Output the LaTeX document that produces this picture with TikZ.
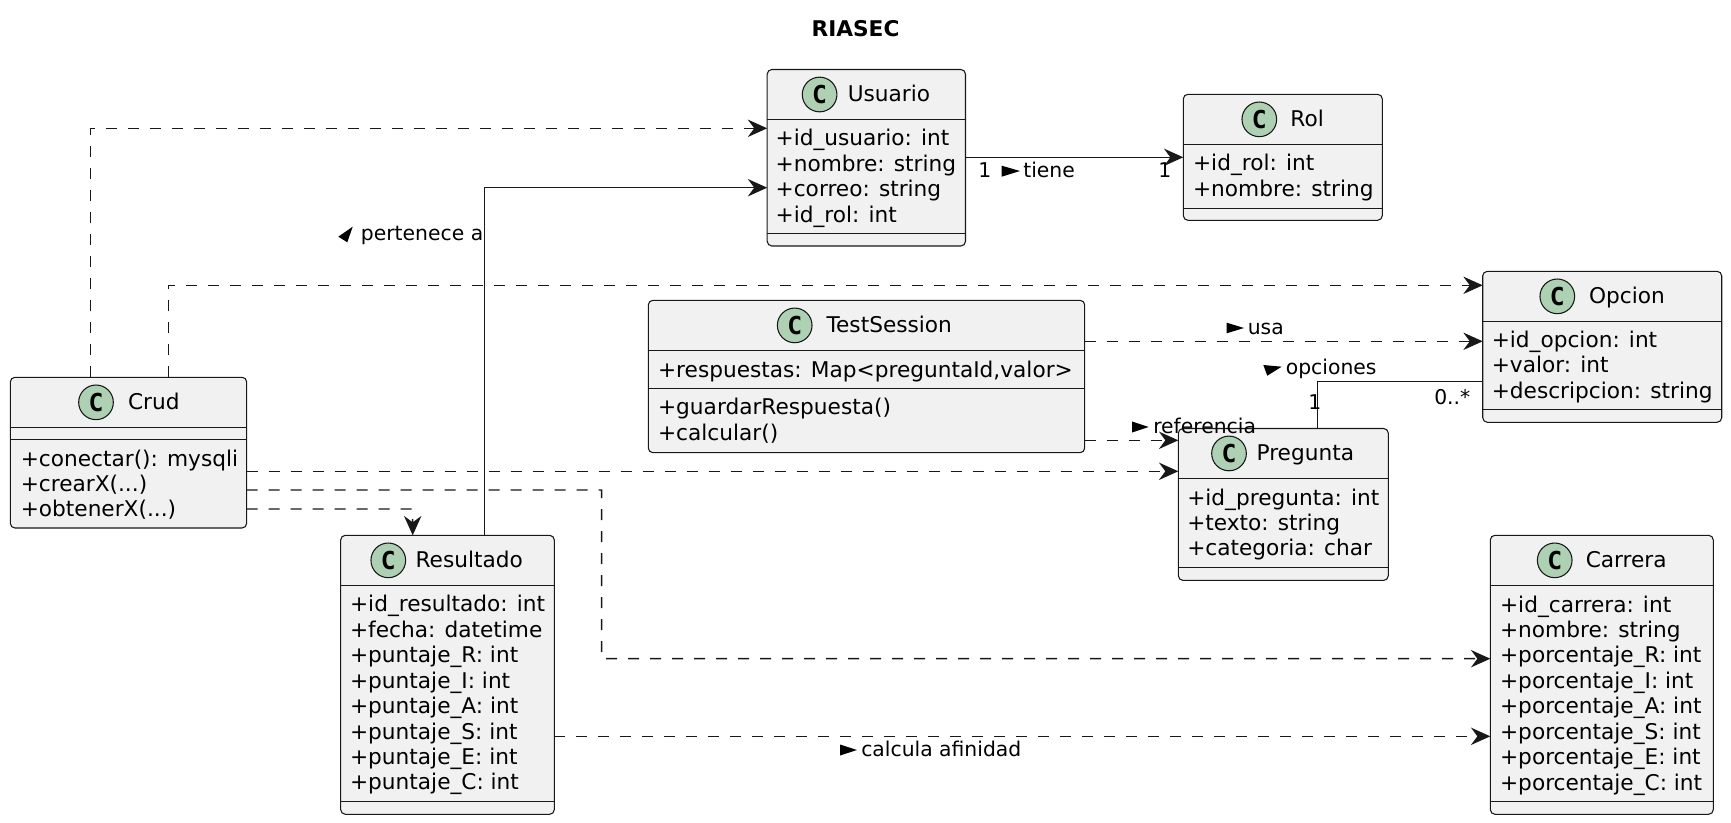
\documentclass[tikz,border=0pt]{standalone}
\usepackage{fontspec}
\setmainfont{DejaVu Sans}
\newfontfamily\spotfont{DejaVu Sans Mono}
\usetikzlibrary{arrows.meta,calc}
\definecolor{boxfill}{HTML}{F1F1F1}
\definecolor{ink}{HTML}{181818}
\definecolor{spotfill}{HTML}{ADD1B2}
\newcommand{\threedots}{.{}.{}.}
\tikzset{
  classbox/.style={draw=ink,fill=boxfill,line width=0.8pt,rounded corners=3.5pt,inner sep=0pt,outer sep=0pt,anchor=north west},
  sepline/.style={draw=ink,line width=0.8pt},
  spot/.style={circle,draw=ink,fill=spotfill,line width=0.8pt,minimum size=26pt,inner sep=0pt,font=\spotfont\bfseries\fontsize{18.5}{18.5}\selectfont},
  titletext/.style={anchor=base west,inner sep=0pt,font=\fontsize{16.25}{18}\selectfont,text=black},
  membertext/.style={anchor=base west,inner sep=0pt,font=\fontsize{16.25}{18}\selectfont,text=black},
  lbl/.style={anchor=base west,inner sep=0pt,font=\fontsize{15.25}{17}\selectfont,text=black},
  rel/.style={draw=ink,line width=1.1pt},
  dep/.style={rel,dash pattern=on 8.25pt off 8.25pt,-{Stealth[length=14.5pt,width=13pt,inset=4.8pt,color=ink]}},
  assoc/.style={rel,-{Stealth[length=14.5pt,width=13pt,inset=4.8pt,color=ink]}},
  tri/.style={fill=black,draw=none}
}
% name, x1, y1, x2, y2, header line y, spot x, title x, title
\newcommand{\umlclass}[9]{%
  \pgfmathsetmacro\bw{(#4-#2)*0.75}%
  \pgfmathsetmacro\bh{(#5-#3)*0.75}%
  \pgfmathsetmacro\sy{(#3+#6)/2}%
  \pgfmathsetmacro\ty{\sy+7.4}%
  \node[classbox,minimum width=\bw pt,minimum height=\bh pt] (#1) at (#2,#3) {};
  \draw[sepline] (#2,#6) -- (#4,#6);
  \node[spot] (#1-spot) at (#7,\sy) {C};
  \node[titletext] (#1-title) at (#8,\ty) {#9};
}
\newcommand{\umlsep}[3]{\draw[sepline] (#1,#3) -- (#2,#3);}
% name prefix, x, first baseline, rows
\newcommand{\members}[4]{%
  \foreach \t [count=\i] in {#4} {
    \pgfmathsetmacro\yy{#3+25.45*(\i-1)}
    \node[membertext] (#1-\i) at (#2,\yy) {\t};
  }
}
\begin{document}
\begin{tikzpicture}[x=0.75pt,y=-0.75pt]
\useasboundingbox (0,0) rectangle (1731,823);
\fill[white] (0,0) rectangle (1731,823);

\node[anchor=base,inner sep=0pt,font=\bfseries\fontsize{16.25}{18}\selectfont] (title) at (855.5,36.5) {RIASEC};

% classes
\umlclass{usuario}{767.2}{69.5}{965.5}{246}{119.5}{819.6}{847.5}{Usuario}
\umlsep{767.2}{965.5}{233.5}
\members{usuario-a}{775.4}{145.7}{+id\_usuario: int,+nombre: string,+correo: string,+id\_rol: int}

\umlclass{rol}{1183.3}{94.3}{1382.3}{220.3}{144.4}{1259.3}{1290.2}{Rol}
\umlsep{1183.3}{1382.3}{208.4}
\members{rol-a}{1192.8}{171}{+id\_rol: int,+nombre: string}

\umlclass{opcion}{1482.7}{271.3}{1721.7}{422.3}{321.4}{1557.3}{1588.8}{Opcion}
\umlsep{1482.7}{1721.7}{409.4}
\members{opcion-a}{1491.5}{347.4}{+id\_opcion: int,+valor: int,+descripcion: string}

\umlclass{testsession}{648.3}{300.3}{1084.7}{452.7}{350.5}{794.7}{826.3}{TestSession}
\umlsep{648.3}{1084.7}{388.4}
\members{testsession-a}{657.8}{377.3}{{+respuestas: Map<preguntaId,valor>}}
\members{testsession-m}{657.8}{415}{+guardarRespuesta(),+calcular()}

\umlclass{crud}{10.3}{377.3}{246.7}{528}{427.4}{96}{127.8}{Crud}
\umlsep{10.3}{246.7}{439.4}
\members{crud-m}{20.5}{466}{+conectar(): mysqli,+crearX(\threedots),+obtenerX(\threedots)}

\umlclass{resultado}{340.7}{535.3}{554.3}{814.3}{585.4}{388.3}{415.3}{Resultado}
\umlsep{340.7}{554.3}{801.4}
\members{resultado-a}{349.8}{611.8}{+id\_resultado: int,+fecha: datetime,+puntaje\_R: int,+puntaje\_I: int,+puntaje\_A: int,+puntaje\_S: int,+puntaje\_E: int,+puntaje\_C: int}

\umlclass{pregunta}{1178.3}{428.5}{1388.3}{580.4}{478.4}{1229}{1256.3}{Pregunta}
\umlsep{1178.3}{1388.3}{567.4}
\members{pregunta-a}{1187}{505}{+id\_pregunta: int,+texto: string,+categoria: char}

\umlclass{carrera}{1490.3}{535.3}{1713.3}{814.3}{585.4}{1554.7}{1585.5}{Carrera}
\umlsep{1490.3}{1713.3}{801.4}
\members{carrera-a}{1499.8}{612}{+id\_carrera: int,+nombre: string,+porcentaje\_R: int,+porcentaje\_I: int,+porcentaje\_A: int,+porcentaje\_S: int,+porcentaje\_E: int,+porcentaje\_C: int}

% connectors
\draw[dep] ($(crud.north west)+(80.3,0)$) |- ($(usuario.north west)+(0,58.8)$);
\draw[dep] ($(crud.north west)+(158,0)$) |- ($(opcion.north west)+(0,14)$);
\draw[assoc] ($(resultado.north west)+(143.6,0)$) |- ($(usuario.north west)+(0,118.2)$);
\draw[assoc] ($(usuario.north east)+(0,87.8)$) -- ($(rol.north west)+(0,63)$);
\draw[dep] ($(testsession.north east)+(0,41)$) -- ($(opcion.north west)+(0,70)$);
\draw[rel] ($(opcion.north west)+(0,110)$) -| ($(pregunta.north west)+(139,0)$);
\draw[dep] ($(testsession.north east)+(0,140)$) -- ($(pregunta.north west)+(0,11.8)$);
\draw[dep] ($(crud.north east)+(0,94)$) -- ($(pregunta.north west)+(0,42.8)$);
\coordinate (crudbend) at (601.7,490);
\draw[dep] ($(crud.north east)+(0,112.7)$) -- (crudbend) |- ($(carrera.north west)+(0,123.4)$);
\coordinate (crudbendb) at (412.7,509);
\draw[dep] ($(crud.north east)+(0,131.7)$) -- (crudbendb) -- ($(resultado.north west)+(72,0)$);
\draw[dep] ($(resultado.north east)+(0,201)$) -- ($(carrera.north west)+(0,201)$);

% connector labels
\fill[tri] (338.3,236.7) -- (352.7,226.7) -- (347.3,242.3) -- cycle;
\node[lbl] (lpertenece) at (360.7,241) {pertenece a};
\node[lbl] (lone-a) at (978,177.7) {1};
\fill[tri] (1001.7,165.7) -- (1020,171) -- (1001.7,176.7) -- cycle;
\node[lbl] (ltiene) at (1023,177.7) {tiene};
\node[lbl] (lone-b) at (1158,177.7) {1};
\fill[tri] (1226.7,322.7) -- (1244,328) -- (1226.7,333.3) -- cycle;
\node[lbl] (lusa) at (1247.5,335) {usa};
\fill[tri] (1263.3,365) -- (1281.7,366.7) -- (1267.3,375.7) -- cycle;
\node[lbl] (lopciones) at (1285.6,375) {opciones};
\node[lbl] (lone-c) at (1308,410) {1};
\node[lbl] (lzero) at (1434,405) {0..*};
\fill[tri] (1132,421.5) -- (1148.5,427) -- (1132,432.5) -- cycle;
\node[lbl] (lreferencia) at (1153,433.3) {referencia};
\fill[tri] (840,744.5) -- (857,750) -- (840,755.5) -- cycle;
\node[lbl] (lcalcula) at (861,756.3) {calcula afinidad};
\end{tikzpicture}
\end{document}
